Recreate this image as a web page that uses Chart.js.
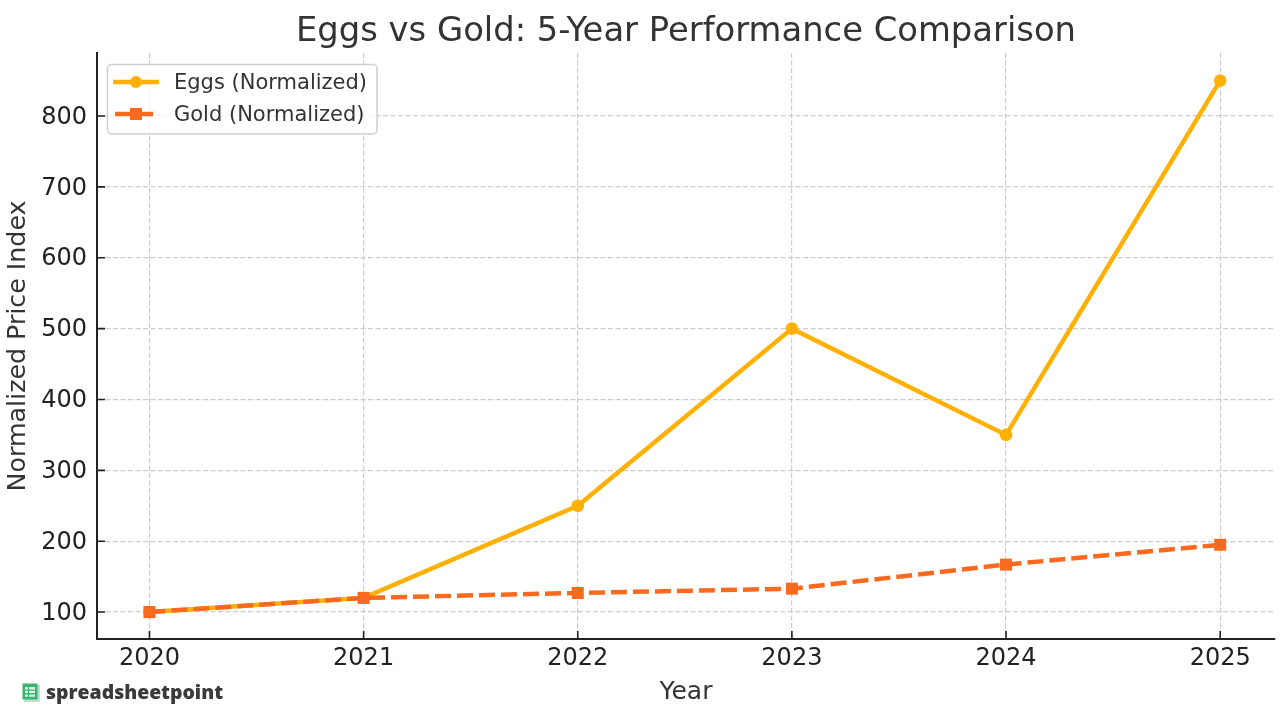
<!DOCTYPE html>
<html>
<head>
<meta charset="utf-8">
<script src="https://cdn.jsdelivr.net/npm/chart.js@4"></script>
<style>
html,body{margin:0;padding:0;background:#fff;width:1280px;height:720px;overflow:hidden}
#wrap{position:relative;width:1280px;height:720px}
canvas{display:block}
#mark{position:absolute;left:22px;top:680px;display:flex;align-items:center;gap:6px;font:800 19.4px "Open Sans",sans-serif;color:#3a3a3a;line-height:24px}
</style>
</head>
<body>
<div id="wrap">
<canvas id="c" width="1280" height="720"></canvas>
<div id="mark"><svg width="18" height="19" viewBox="0 0 18 19"><rect x="2" y="2" width="16" height="17" fill="#b9e3cb"/><rect x="0.5" y="0.5" width="15" height="16" fill="#3cb371"/><path d="M3 4h10v2.4H3zM3 7.7h10v2.4H3zM3 11.4h10v2.4H3z" fill="#dff3e7"/><path d="M6.5 3v11" stroke="#3cb371" stroke-width="1.2"/></svg><span>spreadsheetpoint</span></div>
</div>
<script>
const years = [2020, 2021, 2022, 2023, 2024, 2025];
const eggs = [100, 120, 250, 500, 350, 850];
const gold = [100, 120, 127, 133, 167, 195];
const yTicks = [100, 200, 300, 400, 500, 600, 700, 800];
const titleText = 'Eggs vs Gold: 5-Year Performance Comparison';
const xLabel = 'Year';
const yLabel = 'Normalized Price Index';
const eggsName = 'Eggs (Normalized)';
const goldName = 'Gold (Normalized)';
const eggsColor = '#FFB000';
const goldColor = '#F96A1F';
const inkColor = '#222222';
const gridColor = '#cccccc';
const font = '"DejaVu Sans"';

const innerTicks = {
  id: 'innerTicks',
  beforeDatasetsDraw(chart) {
    const {ctx, chartArea: a, scales: {x, y}} = chart;
    ctx.save();
    ctx.strokeStyle = inkColor;
    ctx.lineWidth = 1.6;
    ctx.beginPath();
    years.forEach(v => { const p = x.getPixelForValue(v); ctx.moveTo(p, a.bottom); ctx.lineTo(p, a.bottom - 8); });
    yTicks.forEach(v => { const p = y.getPixelForValue(v); ctx.moveTo(a.left, p); ctx.lineTo(a.left + 8, p); });
    ctx.stroke();
    ctx.restore();
  }
};

const floatLegend = {
  id: 'floatLegend',
  afterDraw(chart) {
    const {ctx} = chart;
    ctx.save();
    ctx.fillStyle = 'rgba(255,255,255,0.8)';
    ctx.strokeStyle = '#d0d0d0';
    ctx.lineWidth = 1.5;
    ctx.beginPath();
    ctx.roundRect(107.5, 64.5, 269.5, 69.5, 4);
    ctx.fill();
    ctx.stroke();
    const rows = chart.data.datasets;
    rows.forEach((ds, i) => {
      const cy = 82 + i * 32;
      ctx.strokeStyle = ds.borderColor;
      ctx.fillStyle = ds.borderColor;
      ctx.lineWidth = ds.borderWidth;
      ctx.setLineDash([]);
      ctx.beginPath();
      ctx.moveTo(i ? 115 : 113, cy);
      ctx.lineTo(i ? 153 : 159, cy);
      ctx.stroke();
      if (i === 0) {
        ctx.beginPath();
        ctx.arc(136, cy, 6, 0, Math.PI * 2);
        ctx.fill();
      } else {
        ctx.fillRect(130, cy - 6, 12, 12);
      }
      ctx.fillStyle = '#333333';
      ctx.font = '21px ' + font;
      ctx.textBaseline = 'middle';
      ctx.textAlign = 'left';
      ctx.fillText(ds.label, 174, cy + 2);
    });
    ctx.restore();
  }
};

new Chart(document.getElementById('c'), {
  type: 'line',
  data: {
    datasets: [
      {label: eggsName, order: 1, data: years.map((v, i) => ({x: v, y: eggs[i]})), borderColor: eggsColor, backgroundColor: eggsColor,
       borderWidth: 4.5, pointStyle: 'circle', pointRadius: 6.3, pointBorderWidth: 0, pointBackgroundColor: eggsColor, pointBorderColor: eggsColor, tension: 0},
      {label: goldName, order: 0, data: years.map((v, i) => ({x: v, y: gold[i]})), borderColor: goldColor, backgroundColor: goldColor,
       borderWidth: 4.5, borderDash: [16, 6], pointStyle: 'rect', pointRadius: 8.5, pointBorderWidth: 0, pointBackgroundColor: goldColor, pointBorderColor: goldColor, tension: 0}
    ]
  },
  plugins: [innerTicks, floatLegend],
  options: {
    responsive: false,
    animation: false,
    devicePixelRatio: 1,
    layout: {autoPadding: false, padding: {top: 0, right: 5, bottom: 0, left: 0}},
    plugins: {
      legend: {display: false},
      tooltip: {enabled: false},
      title: {display: true, text: titleText, color: '#333333', fullSize: false,
        font: {family: font, size: 33.8, weight: 'normal'}, padding: {top: 12, bottom: 0.4}}
    },
    scales: {
      x: {
        type: 'linear', min: 2019.755, max: 2025.256,
        afterFit(s) { s.height = 81; s.paddingLeft = 0; s.paddingRight = 0; },
        afterBuildTicks(s) { s.ticks = years.map(v => ({value: v})); },
        grid: {color: gridColor, lineWidth: 1.2, drawTicks: false},
        border: {color: inkColor, width: 2, dash: [5, 2.5]},
        ticks: {color: inkColor, padding: 5.5, maxRotation: 0, font: {family: font, size: 24}, callback: v => String(v)},
        title: {display: true, text: xLabel, color: '#333333', font: {family: font, size: 25}, padding: {top: 5, bottom: 13}}
      },
      y: {
        min: 62, max: 889,
        afterFit(s) { s.width = 97; s.paddingTop = 0; s.paddingBottom = 0; },
        afterBuildTicks(s) { s.ticks = yTicks.map(v => ({value: v})); },
        grid: {color: gridColor, lineWidth: 1.2, drawTicks: false},
        border: {color: inkColor, width: 2, dash: [5, 2.5]},
        ticks: {color: inkColor, padding: 10, labelOffset: 1.5, font: {family: font, size: 24}, callback: v => String(v)},
        title: {display: true, text: yLabel, color: '#333333', font: {family: font, size: 25.3}, padding: {top: 3, bottom: 0}}
      }
    }
  }
});
</script>
</body>
</html>
